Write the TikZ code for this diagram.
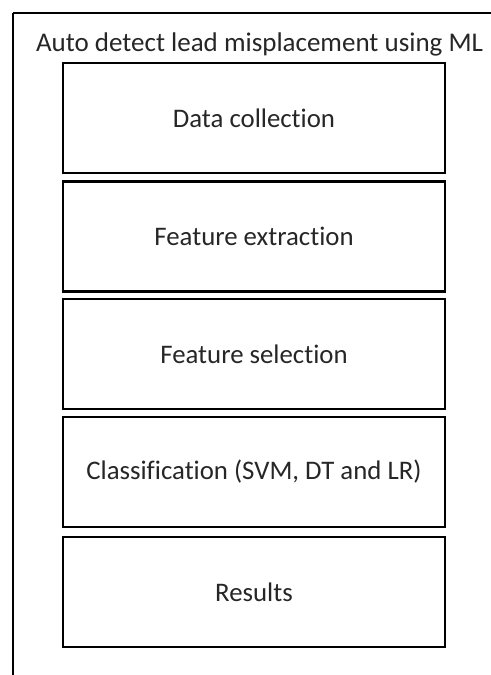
\documentclass[tikz,border=0pt]{standalone}
\usepackage{fontspec}
\setmainfont[Ligatures=NoCommon]{Carlito}
\begin{document}
\begin{tikzpicture}[x=1bp,y=-1bp,
  stage/.style={draw=black,line width=2.6bp,minimum width=382bp,minimum height=110bp,
    inner sep=0pt,font=\fontsize{26.8bp}{30bp}\selectfont,text=black!85},
  frame/.style={draw=black,line width=2.6bp}]
  \useasboundingbox (0,0) rectangle (491,675);
  \clip (0,0) rectangle (491,675);
  % outer container, running off the page on the right and bottom
  \draw[frame] (13,13) -- (13,700) (13,13) -- (520,13);
  \node[font=\fontsize{27bp}{30bp}\selectfont,text=black!85] (title) at (259.5,44) {Auto detect lead misplacement using ML};
  % pipeline stages
  \node[stage] (s1) at (254,118) {Data collection};
  \node[stage] (s2) at (254,236.5) {Feature extraction};
  \node[stage] (s3) at (254,354) {Feature selection};
  \node[stage] (s4) at (254,472) {Classification (SVM, DT and LR)};
  \node[stage] (s5) at (254,592) {Results};
\end{tikzpicture}
\end{document}
